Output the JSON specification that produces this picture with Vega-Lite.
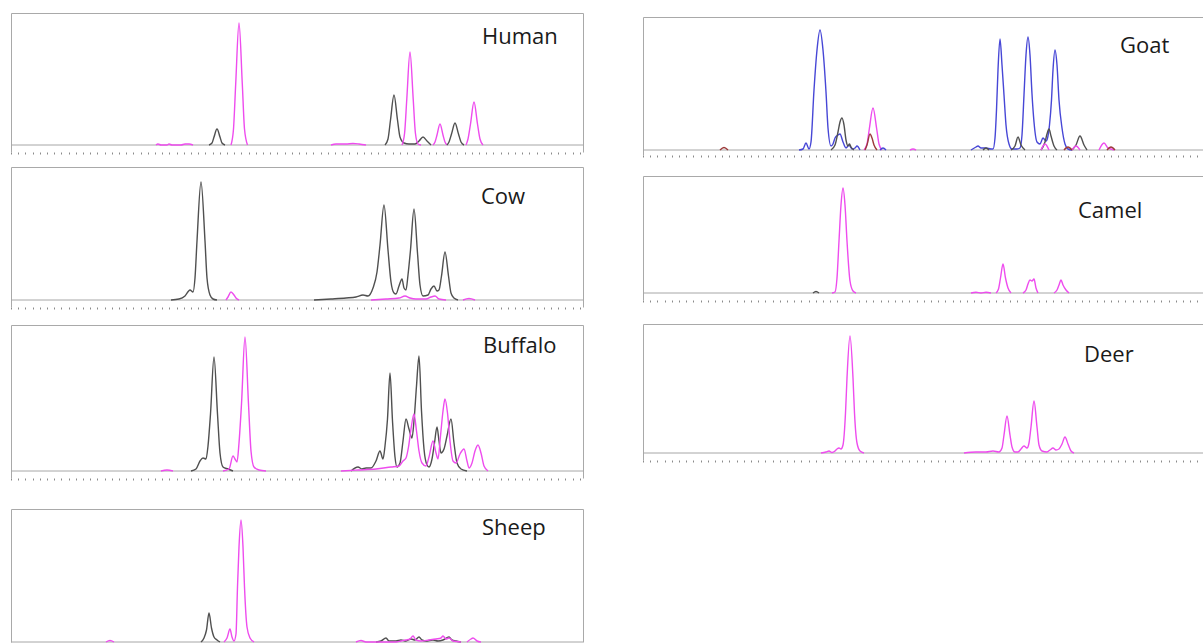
{
"$schema": "https://vega.github.io/schema/vega-lite/v6.json",
"padding": {"left": 10, "top": 13, "right": 0, "bottom": 0},
"background": "white",
"config": {
  "view": {"stroke": null},
  "title": {"anchor": "start", "baseline": "alphabetic", "font": "Open Sans", "fontSize": 22, "fontWeight": "normal", "color": "#1a1a1a", "frame": "group"},
  "axisX": {"labels": false, "domain": false, "ticks": true, "tickColor": "#8a8a8a", "tickSize": 2, "tickWidth": 1, "title": null, "grid": false},
  "axisY": {"labels": false, "ticks": false, "title": null, "grid": false, "domain": true, "domainColor": "#a9a9a9", "domainWidth": 1, "gridColor": "#a9a9a9", "gridOpacity": 1, "gridWidth": 1, "minExtent": 0},
  "line": {"interpolate": "monotone", "strokeWidth": 1.4},
  "rule": {"color": "#a6a6a6", "strokeWidth": 1}
},
"datasets": {
  "human": [
    {"c":"k","g":1,"x":198,"y":0},{"c":"k","g":1,"x":201,"y":2},{"c":"k","g":1,"x":203,"y":8},{"c":"k","g":1,"x":206,"y":16},{"c":"k","g":1,"x":209,"y":8},{"c":"k","g":1,"x":211,"y":2},{"c":"k","g":1,"x":214,"y":0},
    {"c":"m","g":2,"x":220,"y":0},{"c":"m","g":2,"x":222.5,"y":16},{"c":"m","g":2,"x":224.7,"y":61},{"c":"m","g":2,"x":228,"y":122},{"c":"m","g":2,"x":231.3,"y":61},{"c":"m","g":2,"x":233.5,"y":16},{"c":"m","g":2,"x":236.5,"y":0},
    {"c":"k","g":3,"x":374,"y":0},{"c":"k","g":3,"x":377,"y":6},{"c":"k","g":3,"x":379.5,"y":25},{"c":"k","g":3,"x":383,"y":50},{"c":"k","g":3,"x":386.5,"y":25},{"c":"k","g":3,"x":389,"y":8},{"c":"k","g":3,"x":393,"y":2},{"c":"k","g":3,"x":398,"y":1},{"c":"k","g":3,"x":404,"y":1},{"c":"k","g":3,"x":408,"y":4},{"c":"k","g":3,"x":412,"y":8},{"c":"k","g":3,"x":416,"y":4},{"c":"k","g":3,"x":420,"y":0},
    {"c":"m","g":4,"x":391,"y":0},{"c":"m","g":4,"x":393.6,"y":12},{"c":"m","g":4,"x":395.8,"y":46},{"c":"m","g":4,"x":399,"y":93},{"c":"m","g":4,"x":402.2,"y":46},{"c":"m","g":4,"x":404.4,"y":12},{"c":"m","g":4,"x":407,"y":1},{"c":"m","g":4,"x":410,"y":0},
    {"c":"m","g":5,"x":422,"y":0},{"c":"m","g":5,"x":424,"y":3},{"c":"m","g":5,"x":426,"y":10},{"c":"m","g":5,"x":429,"y":21},{"c":"m","g":5,"x":432,"y":10},{"c":"m","g":5,"x":434,"y":3},{"c":"m","g":5,"x":436,"y":0},
    {"c":"k","g":6,"x":436,"y":0},{"c":"k","g":6,"x":438,"y":3},{"c":"k","g":6,"x":440.5,"y":11},{"c":"k","g":6,"x":444,"y":22},{"c":"k","g":6,"x":447.5,"y":11},{"c":"k","g":6,"x":450,"y":3},{"c":"k","g":6,"x":453,"y":0},
    {"c":"m","g":7,"x":455,"y":0},{"c":"m","g":7,"x":457,"y":6},{"c":"m","g":7,"x":459.5,"y":21},{"c":"m","g":7,"x":463,"y":43},{"c":"m","g":7,"x":466.5,"y":21},{"c":"m","g":7,"x":469,"y":6},{"c":"m","g":7,"x":472,"y":0},
    {"c":"m","g":8,"x":145,"y":0},{"c":"m","g":8,"x":147,"y":1},{"c":"m","g":8,"x":150,"y":0},{"c":"m","g":8,"x":156,"y":0},{"c":"m","g":8,"x":158,"y":1},{"c":"m","g":8,"x":161,"y":0},{"c":"m","g":8,"x":170,"y":0},{"c":"m","g":8,"x":174,"y":1},{"c":"m","g":8,"x":178,"y":1},{"c":"m","g":8,"x":182,"y":0},
    {"c":"m","g":9,"x":320,"y":0},{"c":"m","g":9,"x":325,"y":1},{"c":"m","g":9,"x":335,"y":1},{"c":"m","g":9,"x":342,"y":1.5},{"c":"m","g":9,"x":348,"y":1},{"c":"m","g":9,"x":355,"y":0}
  ],
  "cow": [
    {"c":"k","g":1,"x":160,"y":0},{"c":"k","g":1,"x":168,"y":1},{"c":"k","g":1,"x":174,"y":4},{"c":"k","g":1,"x":179,"y":10},{"c":"k","g":1,"x":182,"y":8},{"c":"k","g":1,"x":184,"y":22},{"c":"k","g":1,"x":186,"y":59},{"c":"k","g":1,"x":190,"y":118},{"c":"k","g":1,"x":194,"y":59},{"c":"k","g":1,"x":196,"y":22},{"c":"k","g":1,"x":199,"y":5},{"c":"k","g":1,"x":202,"y":1},{"c":"k","g":1,"x":206,"y":0},
    {"c":"m","g":2,"x":215,"y":0},{"c":"m","g":2,"x":217,"y":3},{"c":"m","g":2,"x":220,"y":8},{"c":"m","g":2,"x":223,"y":5},{"c":"m","g":2,"x":225,"y":2},{"c":"m","g":2,"x":228,"y":0},
    {"c":"k","g":3,"x":303,"y":0},{"c":"k","g":3,"x":320,"y":1},{"c":"k","g":3,"x":335,"y":2},{"c":"k","g":3,"x":345,"y":3},{"c":"k","g":3,"x":352,"y":5},{"c":"k","g":3,"x":357,"y":4},{"c":"k","g":3,"x":362,"y":12},{"c":"k","g":3,"x":366,"y":28},{"c":"k","g":3,"x":369,"y":55},{"c":"k","g":3,"x":373,"y":95},{"c":"k","g":3,"x":377,"y":50},{"c":"k","g":3,"x":380,"y":18},{"c":"k","g":3,"x":383,"y":7},{"c":"k","g":3,"x":385,"y":6},{"c":"k","g":3,"x":388,"y":14},{"c":"k","g":3,"x":391,"y":21},{"c":"k","g":3,"x":393,"y":12},{"c":"k","g":3,"x":395,"y":10},{"c":"k","g":3,"x":397,"y":25},{"c":"k","g":3,"x":399.5,"y":50},{"c":"k","g":3,"x":403,"y":91},{"c":"k","g":3,"x":406.5,"y":47},{"c":"k","g":3,"x":409,"y":15},{"c":"k","g":3,"x":412,"y":4},{"c":"k","g":3,"x":417,"y":5},{"c":"k","g":3,"x":420,"y":11},{"c":"k","g":3,"x":423,"y":14},{"c":"k","g":3,"x":426,"y":9},{"c":"k","g":3,"x":428,"y":10},{"c":"k","g":3,"x":430.5,"y":24},{"c":"k","g":3,"x":434,"y":48},{"c":"k","g":3,"x":437.5,"y":24},{"c":"k","g":3,"x":440,"y":7},{"c":"k","g":3,"x":443,"y":2},{"c":"k","g":3,"x":447,"y":0},
    {"c":"m","g":4,"x":360,"y":0},{"c":"m","g":4,"x":375,"y":1},{"c":"m","g":4,"x":388,"y":2},{"c":"m","g":4,"x":394,"y":4},{"c":"m","g":4,"x":399,"y":2},{"c":"m","g":4,"x":405,"y":1},{"c":"m","g":4,"x":415,"y":1},{"c":"m","g":4,"x":420,"y":3},{"c":"m","g":4,"x":424,"y":4},{"c":"m","g":4,"x":428,"y":1},{"c":"m","g":4,"x":435,"y":0},
    {"c":"m","g":5,"x":452,"y":0},{"c":"m","g":5,"x":458,"y":1.5},{"c":"m","g":5,"x":464,"y":0}
  ],
  "buffalo": [
    {"c":"k","g":1,"x":180,"y":0},{"c":"k","g":1,"x":185,"y":2},{"c":"k","g":1,"x":189,"y":10},{"c":"k","g":1,"x":192,"y":13},{"c":"k","g":1,"x":195,"y":12},{"c":"k","g":1,"x":197,"y":25},{"c":"k","g":1,"x":199.5,"y":57},{"c":"k","g":1,"x":203,"y":114},{"c":"k","g":1,"x":206.5,"y":57},{"c":"k","g":1,"x":209,"y":18},{"c":"k","g":1,"x":212,"y":4},{"c":"k","g":1,"x":217,"y":2},{"c":"k","g":1,"x":222,"y":0},
    {"c":"m","g":2,"x":212,"y":0},{"c":"m","g":2,"x":218,"y":2},{"c":"m","g":2,"x":222,"y":15},{"c":"m","g":2,"x":224,"y":12},{"c":"m","g":2,"x":226,"y":9},{"c":"m","g":2,"x":228,"y":28},{"c":"m","g":2,"x":230.5,"y":67},{"c":"m","g":2,"x":234,"y":134},{"c":"m","g":2,"x":237.5,"y":67},{"c":"m","g":2,"x":240,"y":20},{"c":"m","g":2,"x":243,"y":4},{"c":"m","g":2,"x":248,"y":1},{"c":"m","g":2,"x":255,"y":0},
    {"c":"k","g":3,"x":340,"y":0},{"c":"k","g":3,"x":347,"y":4},{"c":"k","g":3,"x":351,"y":2},{"c":"k","g":3,"x":355,"y":3},{"c":"k","g":3,"x":360,"y":3},{"c":"k","g":3,"x":365,"y":10},{"c":"k","g":3,"x":369,"y":20},{"c":"k","g":3,"x":372,"y":12},{"c":"k","g":3,"x":374,"y":25},{"c":"k","g":3,"x":376.5,"y":52},{"c":"k","g":3,"x":379,"y":98},{"c":"k","g":3,"x":381.5,"y":50},{"c":"k","g":3,"x":384,"y":14},{"c":"k","g":3,"x":386,"y":4},{"c":"k","g":3,"x":389,"y":8},{"c":"k","g":3,"x":392,"y":30},{"c":"k","g":3,"x":395,"y":52},{"c":"k","g":3,"x":398,"y":42},{"c":"k","g":3,"x":401,"y":33},{"c":"k","g":3,"x":403,"y":50},{"c":"k","g":3,"x":405.5,"y":85},{"c":"k","g":3,"x":408,"y":115},{"c":"k","g":3,"x":410.5,"y":60},{"c":"k","g":3,"x":413,"y":22},{"c":"k","g":3,"x":416,"y":6},{"c":"k","g":3,"x":418,"y":4},{"c":"k","g":3,"x":421,"y":12},{"c":"k","g":3,"x":423.5,"y":28},{"c":"k","g":3,"x":426,"y":44},{"c":"k","g":3,"x":428,"y":30},{"c":"k","g":3,"x":430,"y":18},{"c":"k","g":3,"x":433,"y":22},{"c":"k","g":3,"x":436,"y":35},{"c":"k","g":3,"x":440,"y":52},{"c":"k","g":3,"x":443,"y":28},{"c":"k","g":3,"x":446,"y":8},{"c":"k","g":3,"x":450,"y":2},{"c":"k","g":3,"x":456,"y":0},
    {"c":"m","g":4,"x":330,"y":0},{"c":"m","g":4,"x":347,"y":1},{"c":"m","g":4,"x":365,"y":2},{"c":"m","g":4,"x":380,"y":4},{"c":"m","g":4,"x":388,"y":5},{"c":"m","g":4,"x":392,"y":10},{"c":"m","g":4,"x":395,"y":13},{"c":"m","g":4,"x":397.5,"y":24},{"c":"m","g":4,"x":400,"y":42},{"c":"m","g":4,"x":403,"y":57},{"c":"m","g":4,"x":405.5,"y":40},{"c":"m","g":4,"x":408,"y":20},{"c":"m","g":4,"x":411,"y":8},{"c":"m","g":4,"x":415,"y":5},{"c":"m","g":4,"x":418,"y":14},{"c":"m","g":4,"x":422,"y":30},{"c":"m","g":4,"x":425,"y":18},{"c":"m","g":4,"x":427,"y":12},{"c":"m","g":4,"x":429.5,"y":35},{"c":"m","g":4,"x":432,"y":60},{"c":"m","g":4,"x":434,"y":72},{"c":"m","g":4,"x":436.5,"y":58},{"c":"m","g":4,"x":439,"y":30},{"c":"m","g":4,"x":442,"y":10},{"c":"m","g":4,"x":445,"y":8},{"c":"m","g":4,"x":449,"y":17},{"c":"m","g":4,"x":453,"y":22},{"c":"m","g":4,"x":456,"y":10},{"c":"m","g":4,"x":458,"y":3},{"c":"m","g":4,"x":461,"y":8},{"c":"m","g":4,"x":464,"y":20},{"c":"m","g":4,"x":467,"y":26},{"c":"m","g":4,"x":470,"y":18},{"c":"m","g":4,"x":473,"y":5},{"c":"m","g":4,"x":477,"y":0},
    {"c":"m","g":5,"x":150,"y":0},{"c":"m","g":5,"x":156,"y":1},{"c":"m","g":5,"x":162,"y":0}
  ],
  "sheep": [
    {"c":"k","g":1,"x":190,"y":0},{"c":"k","g":1,"x":193,"y":4},{"c":"k","g":1,"x":195.5,"y":12},{"c":"k","g":1,"x":198,"y":29},{"c":"k","g":1,"x":200.5,"y":14},{"c":"k","g":1,"x":203,"y":5},{"c":"k","g":1,"x":206,"y":2},{"c":"k","g":1,"x":209,"y":0},
    {"c":"m","g":2,"x":213,"y":0},{"c":"m","g":2,"x":216,"y":4},{"c":"m","g":2,"x":219,"y":13},{"c":"m","g":2,"x":221,"y":5},{"c":"m","g":2,"x":223,"y":1},{"c":"m","g":2,"x":225,"y":8},{"c":"m","g":2,"x":226.5,"y":55},{"c":"m","g":2,"x":228,"y":95},{"c":"m","g":2,"x":230,"y":122},{"c":"m","g":2,"x":232,"y":95},{"c":"m","g":2,"x":233.5,"y":55},{"c":"m","g":2,"x":236,"y":15},{"c":"m","g":2,"x":239,"y":4},{"c":"m","g":2,"x":243,"y":0},
    {"c":"k","g":3,"x":365,"y":0},{"c":"k","g":3,"x":370,"y":1},{"c":"k","g":3,"x":375,"y":4},{"c":"k","g":3,"x":378,"y":1},{"c":"k","g":3,"x":385,"y":1},{"c":"k","g":3,"x":390,"y":2},{"c":"k","g":3,"x":395,"y":1},{"c":"k","g":3,"x":400,"y":3},{"c":"k","g":3,"x":404,"y":2},{"c":"k","g":3,"x":408,"y":5},{"c":"k","g":3,"x":411,"y":2},{"c":"k","g":3,"x":415,"y":1},{"c":"k","g":3,"x":422,"y":2},{"c":"k","g":3,"x":427,"y":1},{"c":"k","g":3,"x":432,"y":2},{"c":"k","g":3,"x":438,"y":5},{"c":"k","g":3,"x":441,"y":2},{"c":"k","g":3,"x":445,"y":1},{"c":"k","g":3,"x":450,"y":0},
    {"c":"m","g":4,"x":345,"y":0},{"c":"m","g":4,"x":350,"y":1.5},{"c":"m","g":4,"x":355,"y":0},{"c":"m","g":4,"x":385,"y":0},{"c":"m","g":4,"x":390,"y":1},{"c":"m","g":4,"x":395,"y":2},{"c":"m","g":4,"x":399,"y":3},{"c":"m","g":4,"x":402,"y":6},{"c":"m","g":4,"x":405,"y":2},{"c":"m","g":4,"x":410,"y":1},{"c":"m","g":4,"x":418,"y":2},{"c":"m","g":4,"x":425,"y":3},{"c":"m","g":4,"x":430,"y":4},{"c":"m","g":4,"x":432,"y":6},{"c":"m","g":4,"x":435,"y":3},{"c":"m","g":4,"x":438,"y":4},{"c":"m","g":4,"x":442,"y":1},{"c":"m","g":4,"x":450,"y":0},
    {"c":"m","g":5,"x":456,"y":0},{"c":"m","g":5,"x":460,"y":3},{"c":"m","g":5,"x":462,"y":4},{"c":"m","g":5,"x":466,"y":1},{"c":"m","g":5,"x":470,"y":0},
    {"c":"m","g":6,"x":95,"y":0},{"c":"m","g":6,"x":99,"y":1.5},{"c":"m","g":6,"x":103,"y":0}
  ],
  "goat": [
    {"c":"r","g":1,"x":77,"y":0},{"c":"r","g":1,"x":81,"y":2.5},{"c":"r","g":1,"x":85,"y":0},
    {"c":"b","g":2,"x":156,"y":0},{"c":"b","g":2,"x":160,"y":1},{"c":"b","g":2,"x":163,"y":7},{"c":"b","g":2,"x":166,"y":1},{"c":"b","g":2,"x":168,"y":8},{"c":"b","g":2,"x":171,"y":60},{"c":"b","g":2,"x":174,"y":100},{"c":"b","g":2,"x":177,"y":120},{"c":"b","g":2,"x":180,"y":100},{"c":"b","g":2,"x":183,"y":58},{"c":"b","g":2,"x":185,"y":22},{"c":"b","g":2,"x":188,"y":4},{"c":"b","g":2,"x":190,"y":6},{"c":"b","g":2,"x":192,"y":12},{"c":"b","g":2,"x":195,"y":15},{"c":"b","g":2,"x":197,"y":16},{"c":"b","g":2,"x":200,"y":8},{"c":"b","g":2,"x":203,"y":2},{"c":"b","g":2,"x":206,"y":5},{"c":"b","g":2,"x":209,"y":1},{"c":"b","g":2,"x":212,"y":2},{"c":"b","g":2,"x":214,"y":4},{"c":"b","g":2,"x":217,"y":0},
    {"c":"k","g":3,"x":188,"y":0},{"c":"k","g":3,"x":192,"y":5},{"c":"k","g":3,"x":195,"y":18},{"c":"k","g":3,"x":197,"y":28},{"c":"k","g":3,"x":199,"y":32},{"c":"k","g":3,"x":201,"y":25},{"c":"k","g":3,"x":203,"y":10},{"c":"k","g":3,"x":205,"y":4},{"c":"k","g":3,"x":206.5,"y":6},{"c":"k","g":3,"x":208,"y":3},{"c":"k","g":3,"x":211,"y":0},
    {"c":"m","g":4,"x":221,"y":0},{"c":"m","g":4,"x":224,"y":6},{"c":"m","g":4,"x":226.3,"y":21},{"c":"m","g":4,"x":230,"y":42},{"c":"m","g":4,"x":233.7,"y":21},{"c":"m","g":4,"x":236,"y":6},{"c":"m","g":4,"x":239,"y":0},
    {"c":"r","g":5,"x":222,"y":0},{"c":"r","g":5,"x":224,"y":5},{"c":"r","g":5,"x":227,"y":16},{"c":"r","g":5,"x":229,"y":12},{"c":"r","g":5,"x":231,"y":5},{"c":"r","g":5,"x":234,"y":0},
    {"c":"b","g":6,"x":237,"y":0},{"c":"b","g":6,"x":240,"y":2},{"c":"b","g":6,"x":243,"y":0},
    {"c":"m","g":7,"x":267,"y":0},{"c":"m","g":7,"x":270,"y":1},{"c":"m","g":7,"x":273,"y":0},
    {"c":"b","g":8,"x":328,"y":0},{"c":"b","g":8,"x":333,"y":3},{"c":"b","g":8,"x":335,"y":4},{"c":"b","g":8,"x":338,"y":2},{"c":"b","g":8,"x":343,"y":2},{"c":"b","g":8,"x":348,"y":1},{"c":"b","g":8,"x":350,"y":1},{"c":"b","g":8,"x":352,"y":12},{"c":"b","g":8,"x":353.5,"y":40},{"c":"b","g":8,"x":355,"y":80},{"c":"b","g":8,"x":357,"y":111},{"c":"b","g":8,"x":359,"y":85},{"c":"b","g":8,"x":361,"y":55},{"c":"b","g":8,"x":363,"y":25},{"c":"b","g":8,"x":366,"y":6},{"c":"b","g":8,"x":369,"y":1},{"c":"b","g":8,"x":374,"y":1},{"c":"b","g":8,"x":377,"y":2},{"c":"b","g":8,"x":379,"y":15},{"c":"b","g":8,"x":381,"y":55},{"c":"b","g":8,"x":383,"y":95},{"c":"b","g":8,"x":385,"y":113},{"c":"b","g":8,"x":387,"y":95},{"c":"b","g":8,"x":389,"y":56},{"c":"b","g":8,"x":391,"y":28},{"c":"b","g":8,"x":394,"y":8},{"c":"b","g":8,"x":397,"y":6},{"c":"b","g":8,"x":400,"y":12},{"c":"b","g":8,"x":403,"y":9},{"c":"b","g":8,"x":405,"y":14},{"c":"b","g":8,"x":406.5,"y":25},{"c":"b","g":8,"x":408.5,"y":50},{"c":"b","g":8,"x":410,"y":80},{"c":"b","g":8,"x":412,"y":100},{"c":"b","g":8,"x":414,"y":85},{"c":"b","g":8,"x":416,"y":50},{"c":"b","g":8,"x":419,"y":22},{"c":"b","g":8,"x":422,"y":6},{"c":"b","g":8,"x":425,"y":1},{"c":"b","g":8,"x":429,"y":0},
    {"c":"k","g":9,"x":368,"y":0},{"c":"k","g":9,"x":372,"y":4},{"c":"k","g":9,"x":375,"y":13},{"c":"k","g":9,"x":378,"y":5},{"c":"k","g":9,"x":382,"y":0},
    {"c":"k","g":17,"x":340,"y":0},{"c":"k","g":17,"x":343,"y":2},{"c":"k","g":17,"x":346,"y":0},
    {"c":"k","g":10,"x":398,"y":0},{"c":"k","g":10,"x":402,"y":8},{"c":"k","g":10,"x":404,"y":16},{"c":"k","g":10,"x":406,"y":21},{"c":"k","g":10,"x":408,"y":14},{"c":"k","g":10,"x":411,"y":4},{"c":"k","g":10,"x":414,"y":0},
    {"c":"k","g":11,"x":429,"y":0},{"c":"k","g":11,"x":433,"y":5},{"c":"k","g":11,"x":437,"y":14},{"c":"k","g":11,"x":441,"y":5},{"c":"k","g":11,"x":444,"y":0},
    {"c":"m","g":12,"x":398,"y":0},{"c":"m","g":12,"x":402,"y":6},{"c":"m","g":12,"x":406,"y":0},
    {"c":"m","g":13,"x":429,"y":0},{"c":"m","g":13,"x":433,"y":4},{"c":"m","g":13,"x":437,"y":0},
    {"c":"m","g":14,"x":456,"y":0},{"c":"m","g":14,"x":461,"y":7},{"c":"m","g":14,"x":465,"y":2},{"c":"m","g":14,"x":468,"y":1},{"c":"m","g":14,"x":471,"y":0},
    {"c":"r","g":15,"x":421,"y":0},{"c":"r","g":15,"x":425,"y":3},{"c":"r","g":15,"x":429,"y":0},
    {"c":"r","g":16,"x":464,"y":0},{"c":"r","g":16,"x":468,"y":3},{"c":"r","g":16,"x":472,"y":0}
  ],
  "camel": [
    {"c":"k","g":1,"x":170,"y":0},{"c":"k","g":1,"x":173,"y":1.5},{"c":"k","g":1,"x":176,"y":0},
    {"c":"m","g":2,"x":189,"y":0},{"c":"m","g":2,"x":192,"y":1},{"c":"m","g":2,"x":194,"y":15},{"c":"m","g":2,"x":196,"y":52},{"c":"m","g":2,"x":198,"y":88},{"c":"m","g":2,"x":200,"y":105},{"c":"m","g":2,"x":202,"y":88},{"c":"m","g":2,"x":204,"y":52},{"c":"m","g":2,"x":207,"y":12},{"c":"m","g":2,"x":210,"y":2},{"c":"m","g":2,"x":213,"y":0},
    {"c":"m","g":3,"x":353,"y":0},{"c":"m","g":3,"x":355.5,"y":4},{"c":"m","g":3,"x":357.5,"y":15},{"c":"m","g":3,"x":360,"y":29},{"c":"m","g":3,"x":362.5,"y":15},{"c":"m","g":3,"x":365,"y":5},{"c":"m","g":3,"x":368,"y":0},
    {"c":"m","g":4,"x":380,"y":0},{"c":"m","g":4,"x":383,"y":3},{"c":"m","g":4,"x":385,"y":9},{"c":"m","g":4,"x":387,"y":13},{"c":"m","g":4,"x":389,"y":12},{"c":"m","g":4,"x":391,"y":14},{"c":"m","g":4,"x":393,"y":5},{"c":"m","g":4,"x":395,"y":0},
    {"c":"m","g":5,"x":411,"y":0},{"c":"m","g":5,"x":414,"y":3},{"c":"m","g":5,"x":416,"y":8},{"c":"m","g":5,"x":418,"y":13},{"c":"m","g":5,"x":420,"y":8},{"c":"m","g":5,"x":423,"y":3},{"c":"m","g":5,"x":426,"y":0},
    {"c":"m","g":6,"x":328,"y":0},{"c":"m","g":6,"x":333,"y":0.7},{"c":"m","g":6,"x":338,"y":0},{"c":"m","g":6,"x":343,"y":0.7},{"c":"m","g":6,"x":348,"y":0}
  ],
  "deer": [
    {"c":"m","g":1,"x":178,"y":0},{"c":"m","g":1,"x":183,"y":1},{"c":"m","g":1,"x":186,"y":2},{"c":"m","g":1,"x":189,"y":0.5},{"c":"m","g":1,"x":192,"y":2},{"c":"m","g":1,"x":194,"y":4},{"c":"m","g":1,"x":196,"y":5},{"c":"m","g":1,"x":198,"y":4},{"c":"m","g":1,"x":200,"y":8},{"c":"m","g":1,"x":202.5,"y":40},{"c":"m","g":1,"x":204,"y":75},{"c":"m","g":1,"x":207,"y":117},{"c":"m","g":1,"x":210,"y":75},{"c":"m","g":1,"x":211.5,"y":40},{"c":"m","g":1,"x":214,"y":10},{"c":"m","g":1,"x":217,"y":2},{"c":"m","g":1,"x":221,"y":0},
    {"c":"m","g":2,"x":321,"y":0},{"c":"m","g":2,"x":333,"y":1},{"c":"m","g":2,"x":343,"y":1},{"c":"m","g":2,"x":350,"y":2},{"c":"m","g":2,"x":356,"y":1},{"c":"m","g":2,"x":359,"y":5},{"c":"m","g":2,"x":361,"y":18},{"c":"m","g":2,"x":364,"y":37},{"c":"m","g":2,"x":367,"y":18},{"c":"m","g":2,"x":369,"y":6},{"c":"m","g":2,"x":372,"y":1},{"c":"m","g":2,"x":375,"y":1},{"c":"m","g":2,"x":378,"y":4},{"c":"m","g":2,"x":381,"y":7},{"c":"m","g":2,"x":384,"y":5},{"c":"m","g":2,"x":386,"y":10},{"c":"m","g":2,"x":388,"y":26},{"c":"m","g":2,"x":391,"y":52},{"c":"m","g":2,"x":394,"y":26},{"c":"m","g":2,"x":396,"y":8},{"c":"m","g":2,"x":399,"y":2},{"c":"m","g":2,"x":404,"y":1},{"c":"m","g":2,"x":407,"y":3},{"c":"m","g":2,"x":410,"y":5},{"c":"m","g":2,"x":413,"y":3},{"c":"m","g":2,"x":416,"y":4},{"c":"m","g":2,"x":419,"y":9},{"c":"m","g":2,"x":422,"y":16},{"c":"m","g":2,"x":425,"y":9},{"c":"m","g":2,"x":428,"y":2},{"c":"m","g":2,"x":431,"y":0}
  ]
},
"spacing": 58,
"hconcat": [
  {
    "spacing": 0,
    "vconcat": [
      {
        "width": 572, "height": 139,
        "title": {"text": "Human", "dx": 471, "offset": -36},
        "resolve": {"axis": {"y": "independent"}},
        "layer": [
          {"data": {"values": [{"z": 0}]}, "mark": "rule", "encoding": {"y": {"field": "z", "type": "quantitative", "axis": {"orient": "right"}}}},
          {"data": {"name": "human"}, "mark": "line",
           "encoding": {
             "x": {"field": "x", "type": "quantitative", "scale": {"domain": [0, 572], "nice": false, "zero": false}, "axis": {"minExtent": 15, "values": [0,7.2,14.4,21.6,28.8,36,43.2,50.4,57.6,64.8,72,79.2,86.4,93.6,100.8,108,115.2,122.4,129.6,136.8,144,151.2,158.4,165.6,172.8,180,187.2,194.4,201.6,208.8,216,223.2,230.4,237.6,244.8,252,259.2,266.4,273.6,280.8,288,295.2,302.4,309.6,316.8,324,331.2,338.4,345.6,352.8,360,367.2,374.4,381.6,388.8,396,403.2,410.4,417.6,424.8,432,439.2,446.4,453.6,460.8,468,475.2,482.4,489.6,496.8,504,511.2,518.4,525.6,532.8,540,547.2,554.4,561.6,568.8]}},
             "y": {"field": "y", "type": "quantitative", "scale": {"domain": [-7, 132], "nice": false, "zero": false}, "axis": {"orient": "left", "grid": true, "values": [132]}},
             "color": {"field": "c", "type": "nominal", "scale": {"domain": ["k", "m", "b", "r"], "range": ["#505050", "#ee4cee", "#4747d6", "#9c3a3a"]}, "legend": null},
             "detail": {"field": "g", "type": "nominal"}
           }}
        ]
      },
      {
        "width": 572, "height": 140,
        "title": {"text": "Cow", "dx": 470, "offset": -42},
        "resolve": {"axis": {"y": "independent"}},
        "layer": [
          {"data": {"values": [{"z": 0}]}, "mark": "rule", "encoding": {"y": {"field": "z", "type": "quantitative", "axis": {"orient": "right"}}}},
          {"data": {"name": "cow"}, "mark": "line",
           "encoding": {
             "x": {"field": "x", "type": "quantitative", "scale": {"domain": [0, 572], "nice": false, "zero": false}, "axis": {"minExtent": 18, "values": [0,7.2,14.4,21.6,28.8,36,43.2,50.4,57.6,64.8,72,79.2,86.4,93.6,100.8,108,115.2,122.4,129.6,136.8,144,151.2,158.4,165.6,172.8,180,187.2,194.4,201.6,208.8,216,223.2,230.4,237.6,244.8,252,259.2,266.4,273.6,280.8,288,295.2,302.4,309.6,316.8,324,331.2,338.4,345.6,352.8,360,367.2,374.4,381.6,388.8,396,403.2,410.4,417.6,424.8,432,439.2,446.4,453.6,460.8,468,475.2,482.4,489.6,496.8,504,511.2,518.4,525.6,532.8,540,547.2,554.4,561.6,568.8]}},
             "y": {"field": "y", "type": "quantitative", "scale": {"domain": [-7, 133], "nice": false, "zero": false}, "axis": {"orient": "left", "grid": true, "values": [133]}},
             "color": {"field": "c", "type": "nominal", "scale": {"domain": ["k", "m", "b", "r"], "range": ["#505050", "#ee4cee", "#4747d6", "#9c3a3a"]}, "legend": null},
             "detail": {"field": "g", "type": "nominal"}
           }}
        ]
      },
      {
        "width": 572, "height": 153,
        "title": {"text": "Buffalo", "dx": 472, "offset": -33},
        "resolve": {"axis": {"y": "independent"}},
        "layer": [
          {"data": {"values": [{"z": 0}]}, "mark": "rule", "encoding": {"y": {"field": "z", "type": "quantitative", "axis": {"orient": "right"}}}},
          {"data": {"name": "buffalo"}, "mark": "line",
           "encoding": {
             "x": {"field": "x", "type": "quantitative", "scale": {"domain": [0, 572], "nice": false, "zero": false}, "axis": {"minExtent": 31, "values": [0,7.2,14.4,21.6,28.8,36,43.2,50.4,57.6,64.8,72,79.2,86.4,93.6,100.8,108,115.2,122.4,129.6,136.8,144,151.2,158.4,165.6,172.8,180,187.2,194.4,201.6,208.8,216,223.2,230.4,237.6,244.8,252,259.2,266.4,273.6,280.8,288,295.2,302.4,309.6,316.8,324,331.2,338.4,345.6,352.8,360,367.2,374.4,381.6,388.8,396,403.2,410.4,417.6,424.8,432,439.2,446.4,453.6,460.8,468,475.2,482.4,489.6,496.8,504,511.2,518.4,525.6,532.8,540,547.2,554.4,561.6,568.8]}},
             "y": {"field": "y", "type": "quantitative", "scale": {"domain": [-7, 146], "nice": false, "zero": false}, "axis": {"orient": "left", "grid": true, "values": [146]}},
             "color": {"field": "c", "type": "nominal", "scale": {"domain": ["k", "m", "b", "r"], "range": ["#505050", "#ee4cee", "#4747d6", "#9c3a3a"]}, "legend": null},
             "detail": {"field": "g", "type": "nominal"}
           }}
        ]
      },
      {
        "width": 572, "height": 133,
        "title": {"text": "Sheep", "dx": 471, "offset": -31},
        "resolve": {"axis": {"y": "independent"}},
        "layer": [
          {"data": {"values": [{"z": 0}]}, "mark": "rule", "encoding": {"y": {"field": "z", "type": "quantitative", "axis": {"orient": "right"}}}},
          {"data": {"name": "sheep"}, "mark": "line",
           "encoding": {
             "x": {"field": "x", "type": "quantitative", "scale": {"domain": [0, 572], "nice": false, "zero": false}, "axis": null},
             "y": {"field": "y", "type": "quantitative", "scale": {"domain": [0, 133], "nice": false, "zero": false}, "axis": {"orient": "left", "grid": true, "values": [133]}},
             "color": {"field": "c", "type": "nominal", "scale": {"domain": ["k", "m", "b", "r"], "range": ["#505050", "#ee4cee", "#4747d6", "#9c3a3a"]}, "legend": null},
             "detail": {"field": "g", "type": "nominal"}
           }}
        ]
      }
    ]
  },
  {
    "spacing": 0,
    "vconcat": [
      {
        "width": 561, "height": 4,
        "view": {"stroke": null, "fill": "white"},
        "data": {"values": [{}]},
        "mark": {"type": "point", "opacity": 0, "size": 0},
        "encoding": {}
      },
      {
        "width": 561, "height": 138,
        "title": {"text": "Goat", "dx": 477, "offset": -41},
        "resolve": {"axis": {"y": "independent"}},
        "layer": [
          {"data": {"values": [{"z": 0}]}, "mark": "rule", "encoding": {"y": {"field": "z", "type": "quantitative", "axis": {"orient": "right"}}}},
          {"data": {"name": "goat"}, "mark": "line",
           "encoding": {
             "x": {"field": "x", "type": "quantitative", "scale": {"domain": [0, 561], "nice": false, "zero": false}, "axis": {"minExtent": 21, "values": [0,7.2,14.4,21.6,28.8,36,43.2,50.4,57.6,64.8,72,79.2,86.4,93.6,100.8,108,115.2,122.4,129.6,136.8,144,151.2,158.4,165.6,172.8,180,187.2,194.4,201.6,208.8,216,223.2,230.4,237.6,244.8,252,259.2,266.4,273.6,280.8,288,295.2,302.4,309.6,316.8,324,331.2,338.4,345.6,352.8,360,367.2,374.4,381.6,388.8,396,403.2,410.4,417.6,424.8,432,439.2,446.4,453.6,460.8,468,475.2,482.4,489.6,496.8,504,511.2,518.4,525.6,532.8,540,547.2,554.4]}},
             "y": {"field": "y", "type": "quantitative", "scale": {"domain": [-5, 133], "nice": false, "zero": false}, "axis": {"orient": "left", "grid": true, "values": [133]}},
             "color": {"field": "c", "type": "nominal", "scale": {"domain": ["k", "m", "b", "r"], "range": ["#505050", "#ee4cee", "#4747d6", "#9c3a3a"]}, "legend": null},
             "detail": {"field": "g", "type": "nominal"}
           }}
        ]
      },
      {
        "width": 561, "height": 124,
        "title": {"text": "Camel", "dx": 435, "offset": -47},
        "resolve": {"axis": {"y": "independent"}},
        "layer": [
          {"data": {"values": [{"z": 0}]}, "mark": "rule", "encoding": {"y": {"field": "z", "type": "quantitative", "axis": {"orient": "right"}}}},
          {"data": {"name": "camel"}, "mark": "line",
           "encoding": {
             "x": {"field": "x", "type": "quantitative", "scale": {"domain": [0, 561], "nice": false, "zero": false}, "axis": {"minExtent": 24, "values": [0,7.2,14.4,21.6,28.8,36,43.2,50.4,57.6,64.8,72,79.2,86.4,93.6,100.8,108,115.2,122.4,129.6,136.8,144,151.2,158.4,165.6,172.8,180,187.2,194.4,201.6,208.8,216,223.2,230.4,237.6,244.8,252,259.2,266.4,273.6,280.8,288,295.2,302.4,309.6,316.8,324,331.2,338.4,345.6,352.8,360,367.2,374.4,381.6,388.8,396,403.2,410.4,417.6,424.8,432,439.2,446.4,453.6,460.8,468,475.2,482.4,489.6,496.8,504,511.2,518.4,525.6,532.8,540,547.2,554.4]}},
             "y": {"field": "y", "type": "quantitative", "scale": {"domain": [-7, 117], "nice": false, "zero": false}, "axis": {"orient": "left", "grid": true, "values": [117]}},
             "color": {"field": "c", "type": "nominal", "scale": {"domain": ["k", "m", "b", "r"], "range": ["#505050", "#ee4cee", "#4747d6", "#9c3a3a"]}, "legend": null},
             "detail": {"field": "g", "type": "nominal"}
           }}
        ]
      },
      {
        "width": 561, "height": 136,
        "title": {"text": "Deer", "dx": 441, "offset": -43},
        "resolve": {"axis": {"y": "independent"}},
        "layer": [
          {"data": {"values": [{"z": 0}]}, "mark": "rule", "encoding": {"y": {"field": "z", "type": "quantitative", "axis": {"orient": "right"}}}},
          {"data": {"name": "deer"}, "mark": "line",
           "encoding": {
             "x": {"field": "x", "type": "quantitative", "scale": {"domain": [0, 561], "nice": false, "zero": false}, "axis": {"minExtent": 2, "values": [0,7.2,14.4,21.6,28.8,36,43.2,50.4,57.6,64.8,72,79.2,86.4,93.6,100.8,108,115.2,122.4,129.6,136.8,144,151.2,158.4,165.6,172.8,180,187.2,194.4,201.6,208.8,216,223.2,230.4,237.6,244.8,252,259.2,266.4,273.6,280.8,288,295.2,302.4,309.6,316.8,324,331.2,338.4,345.6,352.8,360,367.2,374.4,381.6,388.8,396,403.2,410.4,417.6,424.8,432,439.2,446.4,453.6,460.8,468,475.2,482.4,489.6,496.8,504,511.2,518.4,525.6,532.8,540,547.2,554.4]}},
             "y": {"field": "y", "type": "quantitative", "scale": {"domain": [-7, 129], "nice": false, "zero": false}, "axis": {"orient": "left", "grid": true, "values": [129]}},
             "color": {"field": "c", "type": "nominal", "scale": {"domain": ["k", "m", "b", "r"], "range": ["#505050", "#ee4cee", "#4747d6", "#9c3a3a"]}, "legend": null},
             "detail": {"field": "g", "type": "nominal"}
           }}
        ]
      }
    ]
  }
]
}
